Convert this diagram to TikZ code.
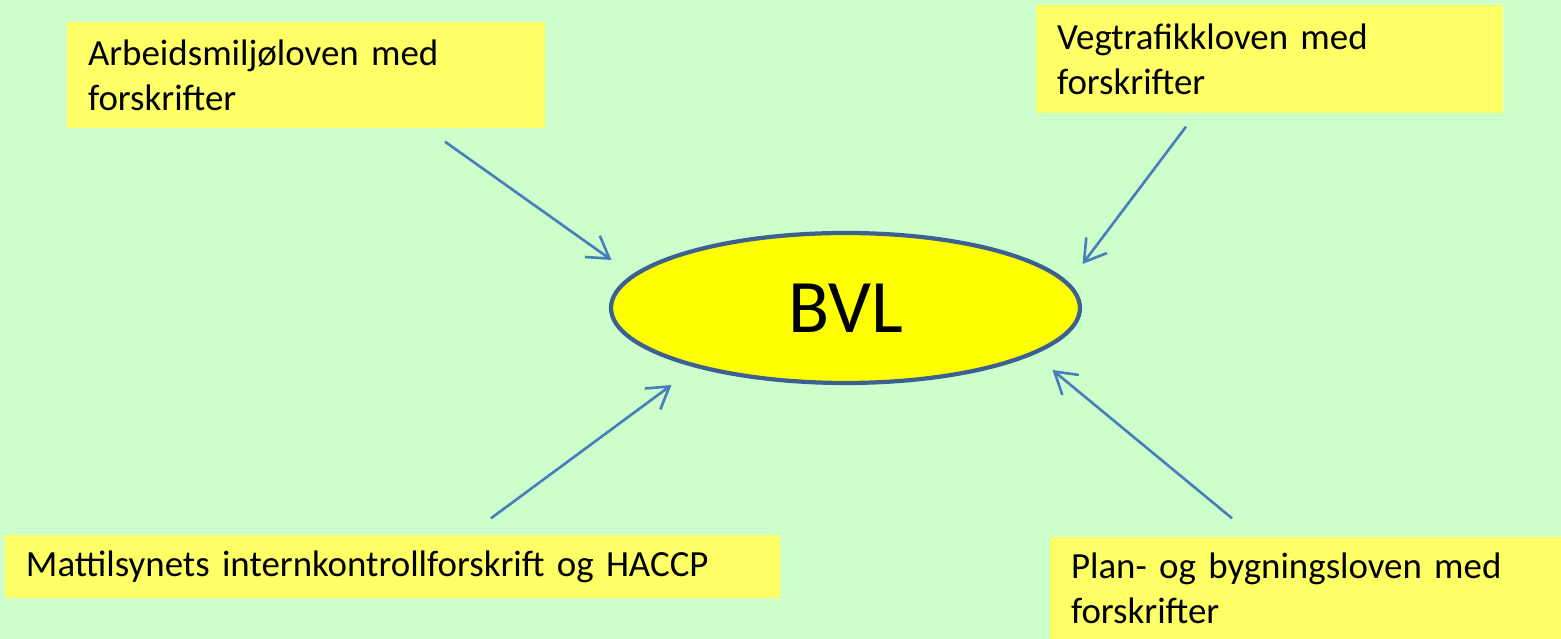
\documentclass[tikz,border=0pt]{standalone}
\usepackage{fontspec}
\setmainfont{Carlito}
\usetikzlibrary{arrows.meta,shapes.geometric}
\definecolor{cbg}{HTML}{CCFFCC}
\definecolor{cbox}{HTML}{FFFF66}
\definecolor{cyel}{HTML}{FFFF00}
\definecolor{cedge}{HTML}{3B6091}
\definecolor{carrow}{HTML}{4A7EBB}

\begin{document}
\begin{tikzpicture}[>={Straight Barb[length=2.1mm,width=2.6mm]},
  law node/.style={rectangle,fill=cbox,inner xsep=0.21cm,inner ysep=0pt,align=left,
    font=\fontsize{10.5}{12.8}\selectfont},
  main node/.style={ellipse,fill=cyel,draw=cedge,line width=1.2pt,inner sep=0pt,
    minimum width=4.69cm,minimum height=1.5cm,font=\fontsize{21.5}{24}\selectfont}]
  \fill[cbg] (0,0) rectangle (15.61,-6.39);
  \useasboundingbox (0,0) rectangle (15.61,-6.39);

  \node[main node] (bvl) at (8.455,-3.08) {BVL};
  \node[law node,text width=4.36cm,minimum height=1.06cm] (arb) at (3.06,-0.75)
    {Arbeidsmiljøloven med\\forskrifter};
  \node[law node,text width=4.25cm,minimum height=1.08cm] (veg) at (12.695,-0.59)
    {Vegtrafikkloven med\\forskrifter};
  \node[law node,text width=7.33cm,minimum height=0.63cm] (mat) at (3.925,-5.665)
    {Mattilsynets internkontrollforskrift og HACCP};
  \node[law node,text width=4.69cm,minimum height=1.02cm] (pbl) at (13.055,-5.88)
    {Plan- og bygningsloven med\\forskrifter};

  \path[every edge/.style={draw=carrow,line width=0.75pt,->}]
    ([shift={(1.39,-0.13)}]arb.south) edge ([shift={(-2.34,0.48)}]bvl.center)
    ([shift={(-0.835,-0.13)}]veg.south) edge ([shift={(2.37,0.44)}]bvl.center)
    ([shift={(0.985,0.16)}]mat.north) edge ([shift={(-1.74,-0.77)}]bvl.center)
    ([shift={(-0.735,0.18)}]pbl.north) edge ([shift={(2.07,-0.62)}]bvl.center);
\end{tikzpicture}
\end{document}
